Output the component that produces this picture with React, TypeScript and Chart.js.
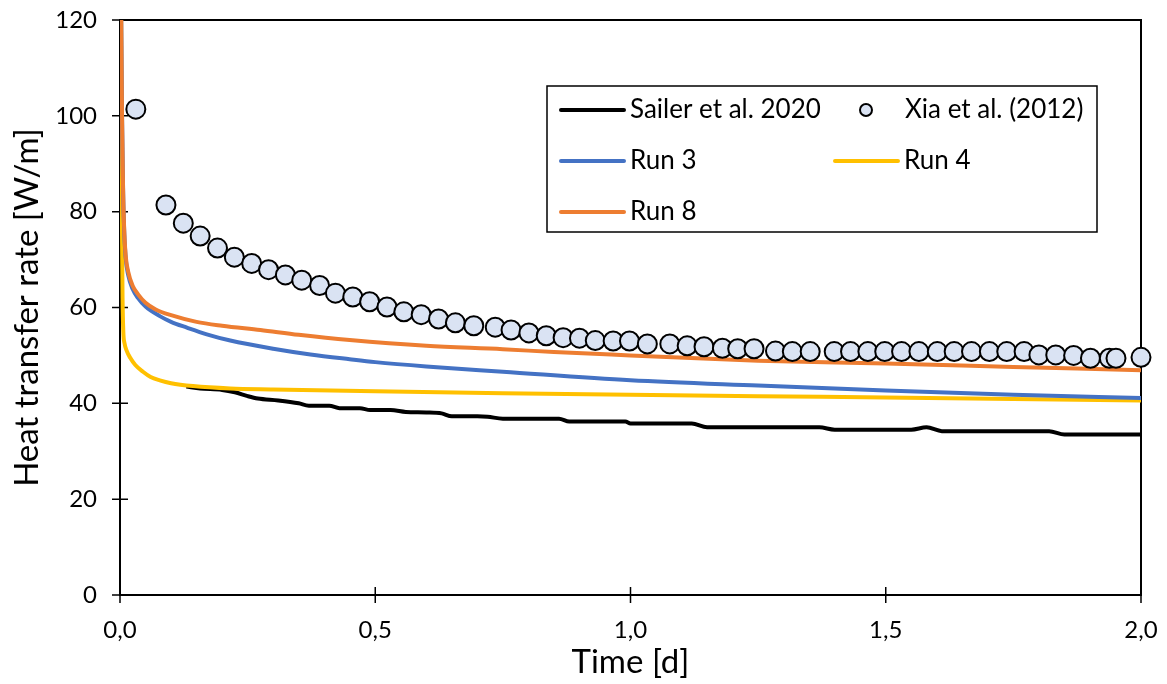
import React, { useEffect, useRef } from "react";
import { Chart, registerables } from "chart.js";

Chart.register(...registerables);

// ---------------- Data ----------------
const xTickStep = 0.5;
const yTickStep = 20;
const xTitle = "Time [d]";
const yTitle = "Heat transfer rate [W/m]";

const seriesNames = ["Sailer et al. 2020", "Xia et al. (2012)", "Run 3", "Run 4", "Run 8"];
const seriesColors = ["#000000", "#DAE3F3", "#4472C4", "#FFC000", "#ED7D31"];

// Sailer et al. 2020 (black line)
const sailerT = [0.13, 0.157, 0.2, 0.225, 0.25, 0.27, 0.31, 0.35, 0.37, 0.41, 0.43, 0.47, 0.49, 0.53, 0.56, 0.6, 0.63, 0.65, 0.7, 0.72, 0.75, 0.86, 0.88, 0.99, 1.0, 1.12, 1.15, 1.37, 1.4, 1.55, 1.58, 1.61, 1.82, 1.85, 2.0];
const sailerQ = [43.5, 43.1, 42.8, 42.3, 41.5, 41.0, 40.6, 40.0, 39.5, 39.5, 39.0, 39.0, 38.6, 38.6, 38.2, 38.1, 37.9, 37.3, 37.3, 37.2, 36.8, 36.8, 36.2, 36.2, 35.8, 35.8, 35.0, 35.0, 34.5, 34.5, 35.0, 34.2, 34.2, 33.5, 33.5];

// Xia et al. (2012) (markers)
const xiaT = [0.031, 0.09, 0.124, 0.157, 0.191, 0.224, 0.258, 0.291, 0.324, 0.356, 0.391, 0.422, 0.456, 0.489, 0.523, 0.556, 0.59, 0.624, 0.657, 0.693, 0.735, 0.766, 0.801, 0.835, 0.868, 0.9, 0.931, 0.966, 0.998, 1.033, 1.077, 1.111, 1.144, 1.18, 1.21, 1.242, 1.284, 1.317, 1.352, 1.399, 1.431, 1.465, 1.498, 1.531, 1.565, 1.601, 1.634, 1.668, 1.703, 1.737, 1.771, 1.8, 1.833, 1.868, 1.901, 1.938, 1.951, 2.0];
const xiaQ = [101.4, 81.4, 77.6, 74.9, 72.4, 70.5, 69.2, 67.9, 66.8, 65.7, 64.6, 63.0, 62.2, 61.2, 60.1, 59.1, 58.5, 57.6, 56.8, 56.2, 55.9, 55.3, 54.7, 54.1, 53.7, 53.6, 53.1, 53.0, 53.0, 52.4, 52.4, 52.0, 51.8, 51.5, 51.4, 51.4, 50.9, 50.8, 50.8, 50.8, 50.8, 50.8, 50.8, 50.8, 50.8, 50.8, 50.8, 50.8, 50.8, 50.8, 50.8, 50.1, 50.1, 50.0, 49.4, 49.4, 49.4, 49.6];

// Run 3 (blue)
const run3T = [0.002, 0.004, 0.006, 0.008, 0.011, 0.016, 0.025, 0.035, 0.05, 0.078, 0.1, 0.131, 0.17, 0.216, 0.3, 0.373, 0.45, 0.5, 0.6, 0.75, 1.0, 1.25, 1.5, 1.75, 2.0];
const run3Q = [125, 100, 85, 76.5, 70.5, 66.8, 63.8, 62.0, 60.2, 58.2, 57.0, 55.8, 54.4, 53.1, 51.4, 50.2, 49.2, 48.6, 47.7, 46.6, 44.8, 43.7, 42.7, 41.8, 41.1];

// Run 4 (yellow)
const run4T = [0.002, 0.003, 0.004, 0.005, 0.0065, 0.009, 0.013, 0.02, 0.03, 0.045, 0.06, 0.078, 0.1, 0.143, 0.216, 0.3, 0.5, 0.75, 1.0, 1.25, 1.5, 1.75, 2.0];
const run4Q = [125, 95, 75, 62, 55, 52.5, 51, 49.5, 48, 46.6, 45.5, 44.8, 44.2, 43.6, 43.1, 42.9, 42.5, 42.1, 41.8, 41.5, 41.2, 40.9, 40.6];

// Run 8 (orange)
const run8T = [0.002, 0.004, 0.006, 0.008, 0.011, 0.016, 0.025, 0.035, 0.05, 0.07, 0.1, 0.15, 0.2, 0.275, 0.35, 0.45, 0.6, 0.75, 0.85, 1.0, 1.25, 1.5, 1.75, 2.0];
const run8Q = [125, 100, 85, 77, 71, 67.5, 64.5, 62.8, 61.0, 59.6, 58.4, 57.0, 56.2, 55.3, 54.3, 53.2, 52.0, 51.3, 50.7, 50.0, 48.9, 48.3, 47.6, 46.9];

const FONT = "Lato";

const pts = (t: number[], q: number[]) => t.map((x, i) => ({ x, y: q[i] }));

const frameTicksPlugin = {
  id: "frameTicks",
  beforeDatasetsDraw(chart: any) {
    const { ctx, chartArea: a, scales } = chart;
    ctx.save();
    ctx.strokeStyle = "#000";
    ctx.lineWidth = 2;
    ctx.strokeRect(a.left, a.top, a.right - a.left, a.bottom - a.top);
    ctx.lineWidth = 1.5;
    ctx.beginPath();
    const xs = scales.x;
    xs.ticks.forEach((t: any) => {
      const p = xs.getPixelForValue(t.value);
      ctx.moveTo(p, a.bottom - 8);
      ctx.lineTo(p, a.bottom + 8);
    });
    const ys = scales.y;
    ys.ticks.forEach((t: any) => {
      const p = ys.getPixelForValue(t.value);
      ctx.moveTo(a.left - 8, p);
      ctx.lineTo(a.left + 8, p);
    });
    ctx.stroke();
    ctx.restore();
  },
};

const legendPlugin = {
  id: "boxLegend",
  afterDatasetsDraw(chart: any) {
    const { ctx, chartArea: a } = chart;
    const bx = a.left + 427;
    const by = a.top + 66;
    const bw = 550;
    const bh = 146;
    ctx.save();
    ctx.fillStyle = "#fff";
    ctx.fillRect(bx, by, bw, bh);
    ctx.strokeStyle = "#000";
    ctx.lineWidth = 1.5;
    ctx.strokeRect(bx, by, bw, bh);
    const items = [
      { i: 0, col: 0, row: 0 },
      { i: 1, col: 1, row: 0 },
      { i: 2, col: 0, row: 1 },
      { i: 3, col: 1, row: 1 },
      { i: 4, col: 0, row: 2 },
    ];
    const colX = [bx + 14, bx + 288];
    const rowY = [by + 24, by + 75, by + 126];
    ctx.font = `26px ${FONT}`;
    ctx.textBaseline = "middle";
    ctx.textAlign = "left";
    items.forEach(({ i, col, row }) => {
      const x0 = colX[col];
      const y0 = rowY[row];
      if (i === 1) {
        ctx.beginPath();
        ctx.arc(x0 + 31, y0, 6, 0, Math.PI * 2);
        ctx.fillStyle = seriesColors[1];
        ctx.fill();
        ctx.lineWidth = 2;
        ctx.strokeStyle = "#000";
        ctx.stroke();
        ctx.fillStyle = "#000";
        ctx.fillText(seriesNames[i], x0 + 70, y0);
      } else {
        ctx.beginPath();
        ctx.moveTo(x0, y0);
        ctx.lineTo(x0 + 63, y0);
        ctx.lineWidth = 4;
        ctx.lineCap = "round";
        ctx.strokeStyle = seriesColors[i];
        ctx.stroke();
        ctx.fillStyle = "#000";
        ctx.fillText(seriesNames[i], x0 + 69, y0);
      }
    });
    ctx.restore();
  },
};

export default function App() {
  const ref = useRef<HTMLCanvasElement | null>(null);
  useEffect(() => {
    if (!ref.current) return;
    const lineDs = (idx: number, t: number[], q: number[], order: number) => ({
      label: seriesNames[idx],
      data: pts(t, q),
      showLine: true,
      borderColor: seriesColors[idx],
      backgroundColor: seriesColors[idx],
      borderWidth: 4,
      pointRadius: 0,
      pointHoverRadius: 0,
      cubicInterpolationMode: "monotone" as const,
      order,
    });
    const chart = new Chart(ref.current, {
      type: "scatter",
      data: {
        datasets: [
          lineDs(0, sailerT, sailerQ, 4),
          {
            label: seriesNames[1],
            data: pts(xiaT, xiaQ),
            showLine: false,
            pointRadius: 9.5,
            pointHoverRadius: 9.5,
            pointBackgroundColor: seriesColors[1],
            pointBorderColor: "#000",
            pointBorderWidth: 2,
            clip: false,
            order: 0,
          } as any,
          lineDs(2, run3T, run3Q, 2),
          lineDs(3, run4T, run4Q, 3),
          lineDs(4, run8T, run8Q, 1),
        ],
      },
      options: {
        responsive: false,
        animation: false,
        devicePixelRatio: 1,
        events: [],
        layout: { padding: { left: 0, right: 26, top: 20, bottom: 0 } },
        plugins: { legend: { display: false }, tooltip: { enabled: false } },
        scales: {
          x: {
            type: "linear",
            position: "bottom",
            min: 0,
            max: 2,
            grid: { display: false, drawTicks: false },
            border: { display: false },
            ticks: {
              stepSize: xTickStep,
              padding: 21,
              maxRotation: 0,
              autoSkip: false,
              color: "#000",
              font: { family: FONT, size: 24 },
              callback: (v: any) => Number(v).toFixed(1).replace(".", ","),
            },
            title: {
              display: true,
              text: xTitle,
              color: "#000",
              font: { family: FONT, size: 33 },
              padding: { top: 0, bottom: 2 },
            },
            afterFit: (s: any) => {
              s.height = 89;
              s.paddingLeft = 0;
              s.paddingRight = 0;
            },
          },
          y: {
            type: "linear",
            position: "left",
            min: 0,
            max: 120,
            grid: { display: false, drawTicks: false },
            border: { display: false },
            ticks: {
              stepSize: yTickStep,
              padding: 23,
              color: "#000",
              font: { family: FONT, size: 24 },
            },
            title: {
              display: true,
              text: yTitle,
              color: "#000",
              font: { family: FONT, size: 33 },
              padding: { top: 8, bottom: 0 },
            },
            afterFit: (s: any) => {
              s.width = 120;
              s.paddingTop = 0;
              s.paddingBottom = 0;
            },
          },
        },
      },
      plugins: [frameTicksPlugin, legendPlugin],
    });
    return () => chart.destroy();
  }, []);
  return (
    <div style={{ position: "fixed", left: 0, top: 0, width: 1167, height: 684, background: "#fff" }}>
      <canvas ref={ref} width={1167} height={684} style={{ width: 1167, height: 684 }} />
    </div>
  );
}
